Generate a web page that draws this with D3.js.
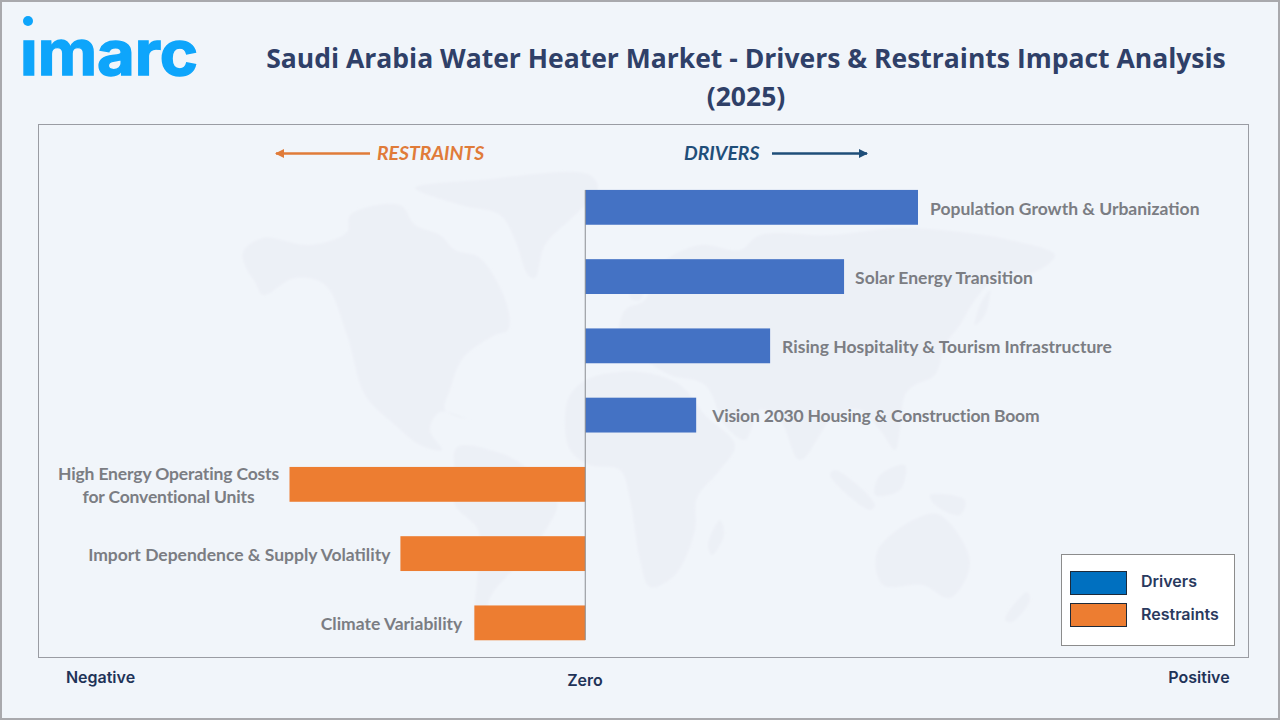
<!DOCTYPE html>
<html>
<head>
<meta charset="utf-8">
<script src="https://cdn.jsdelivr.net/npm/d3@7"></script>
<style>
html, body { margin: 0; padding: 0; background: #f1f5fa; }
svg { display: block; }
</style>
</head>
<body>
<script>
// chart data, impact score
var driverNames = ["Population Growth & Urbanization", "Solar Energy Transition", "Rising Hospitality & Tourism Infrastructure", "Vision 2030 Housing & Construction Boom"];
var driverValues = [9, 7, 5, 3];
var restraintNames = ["High Energy Operating Costs|for Conventional Units", "Import Dependence & Supply Volatility", "Climate Variability"];
var restraintValues = [-8, -5, -3];
var legendNames = ["Drivers", "Restraints"];
var legendColors = ["#0070c0", "#ed7d31"];
var titleLines = ["Saudi Arabia Water Heater Market - Drivers & Restraints Impact Analysis", "(2025)"];

// gap between bar end and its label, one per row
var labelGaps = [12, 11, 12, 16, 12, 10, 12];

// faint world map behind the bars (decoration only)
var mapShapes = [
    [[243,252],[263,238],[310,245],[347,232],[350,215],[400,205],[415,225],[440,235],[455,250],[480,258],[507,305],[508,330],[495,335],[463,358],[450,390],[445,410],[470,420],[440,412],[430,430],[442,450],[420,445],[395,425],[365,395],[347,335],[325,285],[295,278],[263,295],[255,282],[247,270]],
    [[415,188],[480,180],[590,175],[598,190],[575,215],[545,245],[535,278],[528,275],[515,240],[500,215],[460,205]],
    [[457,447],[497,452],[523,465],[557,502],[547,528],[517,565],[490,598],[483,632],[475,630],[478,570],[478,530],[455,505],[455,480]],
    [[565,418],[570,395],[590,378],[640,372],[680,385],[705,415],[735,445],[720,470],[697,498],[695,530],[675,575],[650,587],[640,560],[630,500],[620,470],[590,465],[570,450]],
    [[720,520],[724,535],[712,555],[708,545]],
    [[620,340],[625,310],[645,300],[660,265],[700,245],[740,250],[760,235],[830,235],[900,228],[960,232],[1010,240],[1055,255],[1035,272],[1000,275],[975,300],[960,325],[945,345],[935,375],[915,385],[905,395],[900,430],[895,450],[880,430],[860,410],[835,415],[800,460],[780,420],[760,410],[745,440],[725,425],[705,385],[670,375],[645,360]],
    [[877,552],[917,518],[940,515],[970,562],[950,598],[923,585],[883,585]],
    [[835,470],[875,505],[870,510],[830,475]],
    [[880,475],[905,465],[900,490],[875,495]],
    [[930,495],[965,500],[960,515],[935,505]],
    [[1027,592],[1030,600],[1012,622],[1005,620]],
    [[990,290],[985,315],[975,325],[980,305]],
    [[635,280],[645,278],[640,300],[630,298]]
];

var width = 1280,
    height = 720;

var svg = d3.select("body")
    .append("svg")
    .attr("width", width)
    .attr("height", height);

svg.append("rect")
    .attr("x", 1).attr("y", 1)
    .attr("width", width - 2).attr("height", height - 2)
    .attr("fill", "#f1f5fa")
    .attr("stroke", "#a9a9ad")
    .attr("stroke-width", 2);

// logo, clipped so the font's own dot can be swapped for the round one
var defs = svg.append("defs");
defs.append("clipPath").attr("id", "logoClip")
    .append("rect").attr("x", 15).attr("y", 39).attr("width", 190).attr("height", 40);
defs.append("filter").attr("id", "soft")
    .append("feGaussianBlur").attr("stdDeviation", 1.2);

svg.append("text")
    .attr("x", 20).attr("y", 75)
    .attr("clip-path", "url(#logoClip)")
    .attr("font-family", "Inter")
    .attr("font-weight", 700)
    .attr("font-size", 62)
    .attr("textLength", 178)
    .attr("lengthAdjust", "spacingAndGlyphs")
    .attr("fill", "#0ea5fb")
    .attr("stroke", "#0ea5fb")
    .attr("stroke-width", 1.4)
    .text("imarc");
svg.append("circle").attr("cx", 28).attr("cy", 21).attr("r", 5).attr("fill", "#0ea5fb");

// title
svg.selectAll(".title")
    .data(titleLines)
    .enter()
    .append("text")
    .attr("class", "title")
    .attr("x", 746)
    .attr("y", (d, i) => 68 + i * 38)
    .attr("text-anchor", "middle")
    .attr("font-family", "Open Sans")
    .attr("font-weight", 700)
    .attr("font-size", 26.5)
    .attr("fill", "#2f4068")
    .text(d => d);

var mapLine = d3.line().curve(d3.curveCatmullRomClosed.alpha(0.5));
svg.append("g")
    .attr("filter", "url(#soft)")
    .selectAll("path")
    .data(mapShapes)
    .enter()
    .append("path")
    .attr("d", mapLine)
    .attr("fill", "#e9edf4")
    .attr("fill-opacity", 0.6);

// plot frame
svg.append("rect")
    .attr("x", 38.5).attr("y", 124.5)
    .attr("width", 1210).attr("height", 533)
    .attr("fill", "none")
    .attr("stroke", "#9a9ca3");

// scales
var rows = driverNames.concat(restraintNames);
var values = driverValues.concat(restraintValues);
var barData = rows.map((name, i) => ({name: name, value: values[i], gap: labelGaps[i]}));

var x = d3.scaleLinear()
    .domain([-8, 9])
    .range([289.5, 918]);

var y = d3.scaleBand()
    .domain(rows)
    .range([172.6, 657.6])
    .paddingInner(0.497)
    .paddingOuter(0.25);

// bars
svg.append("g").selectAll("rect")
    .data(barData)
    .enter()
    .append("rect")
    .attr("x", d => Math.min(x(0), x(d.value)))
    .attr("y", d => y(d.name))
    .attr("width", d => Math.abs(x(d.value) - x(0)))
    .attr("height", y.bandwidth())
    .attr("fill", d => d.value > 0 ? "#4472c4" : "#ed7d31");

// zero axis, ticks hidden
svg.append("g")
    .attr("transform", "translate(" + x(0) + ",0)")
    .call(d3.axisLeft(y).tickSize(0).tickFormat(""))
    .call(g => g.select(".domain").attr("stroke", "#8a8d93").attr("d", "M0,190V640"));

// bar labels
var labels = svg.append("g").selectAll("text")
    .data(barData)
    .enter()
    .append("text")
    .attr("font-family", "Lato")
    .attr("font-weight", 700)
    .attr("font-size", 17.5)
    .attr("fill", "#7b7d83")
    .attr("text-anchor", d => d.value > 0 ? "start" : (d.name.indexOf("|") > 0 ? "middle" : "end"))
    .attr("transform", d => {
        var lx = d.value > 0 ? x(d.value) + d.gap : x(d.value) - d.gap;
        if (d.name.indexOf("|") > 0) lx = x(d.value) - 121;
        return "translate(" + lx + "," + (y(d.name) + y.bandwidth() / 2 + 7.2) + ")";
    });
labels.each(function(d) {
    var parts = d.name.split("|");
    d3.select(this).selectAll("tspan")
        .data(parts)
        .enter()
        .append("tspan")
        .attr("x", 0)
        .attr("y", (p, i) => parts.length > 1 ? (i * 23 - 11.5) : 0)
        .attr("letter-spacing", d.name.indexOf("Vision") == 0 ? -0.2 : (parts.length > 1 ? -0.15 : 0))
        .text(p => p);
});

// direction arrows
var arrowDefs = [["arrowO", "#e07b39"], ["arrowB", "#1f4e79"]];
defs.selectAll("marker")
    .data(arrowDefs)
    .enter()
    .append("marker")
    .attr("id", d => d[0])
    .attr("viewBox", "0 0 9 9")
    .attr("refX", 8).attr("refY", 4.5)
    .attr("markerWidth", 9).attr("markerHeight", 9)
    .attr("markerUnits", "userSpaceOnUse")
    .attr("orient", "auto")
    .append("path")
    .attr("d", "M0,0L9,4.5L0,9Z")
    .attr("fill", d => d[1]);

svg.append("line")
    .attr("x1", 370).attr("x2", 276).attr("y1", 153.5).attr("y2", 153.5)
    .attr("stroke", "#e07b39").attr("stroke-width", 2.6)
    .attr("marker-end", "url(#arrowO)");
svg.append("line")
    .attr("x1", 772).attr("x2", 867).attr("y1", 153.5).attr("y2", 153.5)
    .attr("stroke", "#1f4e79").attr("stroke-width", 2.6)
    .attr("marker-end", "url(#arrowB)");

svg.append("text")
    .attr("x", 377).attr("y", 160)
    .attr("font-family", "Lato").attr("font-weight", 700).attr("font-style", "italic")
    .attr("font-size", 19.4)
    .attr("fill", "#e07b39")
    .text("RESTRAINTS");
svg.append("text")
    .attr("x", 684).attr("y", 160)
    .attr("font-family", "Lato").attr("font-weight", 700).attr("font-style", "italic")
    .attr("font-size", 19.4)
    .attr("fill", "#1f4e79")
    .text("DRIVERS");

// axis end labels
var endLabels = [["Negative", 100.5, 683], ["Zero", 585, 686], ["Positive", 1199, 683]];
svg.selectAll(".endLabel")
    .data(endLabels)
    .enter()
    .append("text")
    .attr("class", "endLabel")
    .attr("x", d => d[1])
    .attr("y", d => d[2])
    .attr("text-anchor", "middle")
    .attr("font-family", "Inter")
    .attr("font-weight", 600)
    .attr("font-size", 16)
    .attr("fill", "#1f3358")
    .text(d => d[0]);

// legend
svg.append("rect")
    .attr("x", 1061.5).attr("y", 554.5)
    .attr("width", 173).attr("height", 91)
    .attr("fill", "#fff")
    .attr("stroke", "#8c8c8c");

var legend = svg.append("g").selectAll("g")
    .data(legendNames)
    .enter()
    .append("g")
    .attr("transform", (d, i) => "translate(0," + (i * 32) + ")");
legend.append("rect")
    .attr("x", 1070.5).attr("y", 571.5)
    .attr("width", 56).attr("height", 23)
    .attr("fill", (d, i) => legendColors[i])
    .attr("stroke", "#1d2a3a");
legend.append("text")
    .attr("x", 1141).attr("y", (d, i) => 587 + i)
    .attr("font-family", "Inter")
    .attr("font-weight", 600)
    .attr("font-size", 16)
    .attr("fill", "#2a3a5e")
    .text(d => d);
</script>
</body>
</html>
